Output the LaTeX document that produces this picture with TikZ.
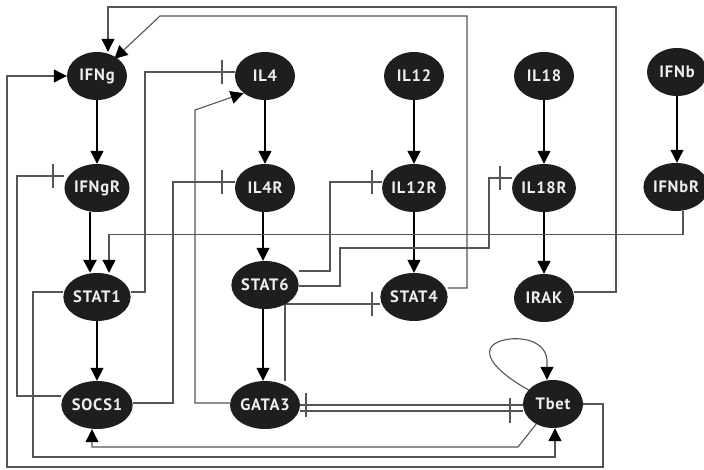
\documentclass[tikz,border=0pt]{standalone}
\usepackage{fontspec}
\setmainfont{PT Sans}
\newfontfamily\genefont[LetterSpace=5]{PT Sans}
\usetikzlibrary{arrows.meta,shapes.geometric,calc}
\pgfdeclarelayer{bg}
\pgfsetlayers{bg,main}
\definecolor{nodefill}{HTML}{1E1E1E}
\definecolor{wirecol}{HTML}{555555}
\definecolor{labelcol}{HTML}{EEEEEE}
\tikzset{
  gene/.style={ellipse, fill=nodefill, text=labelcol, font=\genefont\bfseries\fontsize{16.5}{16.5}\selectfont,
    minimum width=60pt, minimum height=48pt, inner sep=0pt},
  act/.style={draw=black, line width=1.3pt, -{Triangle[length=13pt,width=13pt]}},
  wire/.style={draw=wirecol, line width=1.1pt},
  wact/.style={wire, -{Triangle[length=13pt,width=13pt,color=black]}},
  teebar/.style={draw=wirecol, line width=1.1pt}
}
\begin{document}
\begin{tikzpicture}[x=1pt,y=-1pt]
\useasboundingbox (0,0) rectangle (704,469);
\node[gene] (IFNg) at (97,76) {IFNg};
\node[gene] (IL4) at (265,76) {IL4};
\node[gene] (IL12) at (414,76) {IL12};
\node[gene] (IL18) at (544,76) {IL18};
\node[gene] (IFNb) at (677,72) {IFNb};
\node[gene] (IFNgR) at (97,188) {IFNgR};
\node[gene] (IL4R) at (265,188) {IL4R};
\node[gene] (IL12R) at (414,188) {IL12R};
\node[gene] (IL18R) at (544,188) {IL18R};
\node[gene] (IFNbR) at (676,187) {IFNbR};
\node[gene] (STAT1) at (97,297) {STAT1};
\node[gene] (STAT6) at (265,285) {STAT6};
\node[gene] (STAT4) at (414,297) {STAT4};
\node[gene] (IRAK) at (544,298) {IRAK};
\node[gene] (SOCS1) at (97,405) {SOCS1};
\node[gene] (GATA3) at (265,405) {GATA3};
\node[gene] (Tbet) at (553,404) {Tbet};
\begin{pgfonlayer}{bg}
\fill[white] (0,0) rectangle (704,469);
% activations (vertical)
\draw[act] (IFNg.south) -- (IFNgR.north);
\draw[act] (IL4.south) -- (IL4R.north);
\draw[act] (IL12.south) -- (IL12R.north);
\draw[act] (IL18.south) -- (IL18R.north);
\draw[act] (IFNb.south) -- (IFNb.south |- IFNbR.north);
\draw[act, line width=2.6pt] ([xshift=-7pt]IFNgR.south) -- ([xshift=-7pt]STAT1.north);
\draw[act] (STAT1.south) -- (SOCS1.north);
\draw[act] ([xshift=-2pt]IL4R.south) -- ([xshift=-2pt]STAT6.north);
\draw[act] (IL12R.south) -- (STAT4.north);
\draw[act] (IL18R.south) -- (IRAK.north);
\draw[act] ([xshift=-2pt]STAT6.south) -- ([xshift=-2pt]GATA3.north);
% routed activations
\draw[wact] ([xshift=7pt]IFNbR.south) -- ++(0,23) -| ([xshift=12pt]STAT1.north);
\draw[wact] ([yshift=6pt]IRAK.east) -| (616,7) -| ([xshift=11pt]IFNg.north);
\draw[wact] ([yshift=9pt]STAT4.east) -| (467,16) -- (160,16) -- ([xshift=-4pt]IFNg.north east);
\draw[wact] (Tbet.east) -| (603,467) -| (7,76) -- (IFNg.west);
\draw[wact] ([yshift=5pt]STAT1.west) -| (33,457) -| ([xshift=2pt]Tbet.south);
\draw[wact] (Tbet.230) -- (518,447) -| ([xshift=-5pt]SOCS1.south);
\draw[wact] ([yshift=2pt]GATA3.west) -| (195,110) -- (IL4.south west);
\draw[wact] (Tbet.150) .. controls (505,377) and (482,358) .. (492,346) .. controls (502,335) and (545,334) .. (547,360) -- ([xshift=-6pt]Tbet.north);
% inhibitions
\draw[wire] ([yshift=9pt]SOCS1.west) -| (17,176) -- ([yshift=12pt]IFNgR.west);
\draw[teebar] (53,164) -- (53,188);
\draw[wire] ([yshift=5pt]STAT1.east) -| (145,72) -- ([yshift=4pt]IL4.west);
\draw[teebar] (222,60) -- (222,84);
\draw[wire] ([yshift=2pt]SOCS1.east) -| (173,182) -- ([yshift=6pt]IL4R.west);
\draw[teebar] (222,170) -- (222,194);
\draw[wire] ([yshift=14pt]STAT6.east) -| (330,182) -- ([yshift=6pt]IL12R.west);
\draw[teebar] (372,170) -- (372,194);
\draw[wire] ([yshift=-1pt]STAT6.east) -| (340,248) -| (489,178) -- ([yshift=10pt]IL18R.west);
\draw[teebar] (500,166) -- (500,190);
\draw[wire] ([xshift=20pt]GATA3.north) |- ([yshift=-7pt]STAT4.west);
\draw[teebar] (372,292) -- (372,316);
\draw[wire] (GATA3.east) -- (Tbet.west |- GATA3.east);
\draw[teebar] (306,393) -- (306,417);
\draw[wire] ([yshift=-6pt]GATA3.east) -- (Tbet.west |- 0,411);
\draw[teebar] (510,398) -- (510,423);
\end{pgfonlayer}
\end{tikzpicture}
\end{document}
